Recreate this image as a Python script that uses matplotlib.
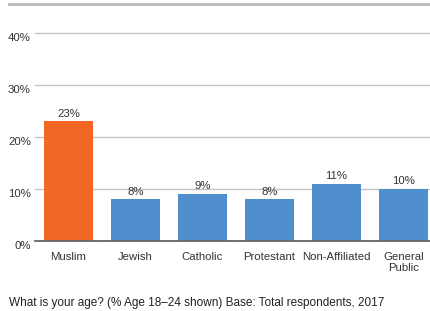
import numpy as np
import matplotlib.pyplot as plt
from matplotlib.lines import Line2D

categories = ["Muslim", "Jewish", "Catholic", "Protestant", "Non-Affiliated", "General\nPublic"]
values = [23, 8, 9, 8, 11, 10]
colors = ["#F26724", "#4F8FCD", "#4F8FCD", "#4F8FCD", "#4F8FCD", "#4F8FCD"]
yticks = [0, 10, 20, 30, 40]
caption = "What is your age? (% Age 18\u201324 shown) Base: Total respondents, 2017"

plt.rcParams['font.family'] = ['Liberation Sans', 'DejaVu Sans']

W, H = 431, 311
fig = plt.figure(figsize=(W / 100, H / 100), dpi=100)

# axes: left x=35, right x=431, bottom y=241 (0%), 40% at y=33
y0, y40 = 241, 33
px_per_pct = (y0 - y40) / 40
top_px = 20
ymax = (y0 - top_px) / px_per_pct
ax = fig.add_axes([35 / W, 1 - y0 / H, (431 - 35) / W, (y0 - top_px) / H])

slot = 67
x = np.arange(len(categories))
ax.set_xlim(-0.5, -0.5 + (431 - 35) / slot)
ax.set_ylim(0, ymax)

ax.bar(x, values, width=49 / slot, color=colors, zorder=3)
for xi, v in zip(x, values):
    ax.text(xi, v + 0.55, f"{v}%", ha="center", va="bottom", fontsize=8.2, color="#333333")

ax.set_yticks(yticks)
ax.set_yticklabels([f"{t}%" for t in yticks], fontsize=8.2, color="#333333", va="top")
ax.tick_params(axis="y", length=0, pad=3)
ax.grid(axis="y", color="#C4C4C4", linewidth=1, zorder=0)

ax.set_xticks(x)
ax.set_xticklabels(categories, fontsize=8.2, color="#333333", linespacing=1.1)
ax.tick_params(axis="x", length=0, pad=8)

for s in ["top", "right", "left"]:
    ax.spines[s].set_visible(False)
ax.spines["bottom"].set_color("#666666")
ax.spines["bottom"].set_linewidth(1.3)
ax.spines["bottom"].set_zorder(4)

# top rule across the figure
fig.add_artist(Line2D([9 / W, 1], [1 - 4 / H, 1 - 4 / H], color="#BBBBBB", linewidth=2.2))

fig.text(9 / W, 1 - 303 / H, caption, fontsize=8.5, color="#222222", va="center", ha="left")

fig.savefig("out.png", dpi=100)
